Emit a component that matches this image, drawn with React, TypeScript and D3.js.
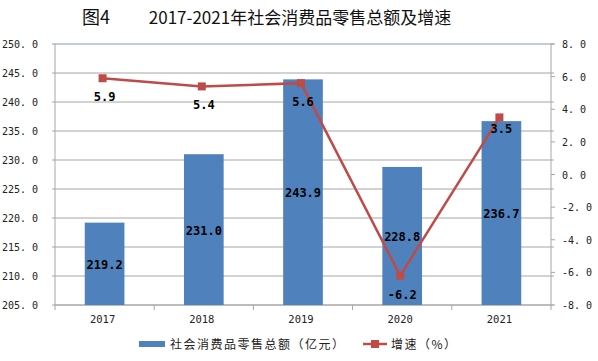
import React from 'react';
import * as d3 from 'd3';

const years = ['2017', '2018', '2019', '2020', '2021'];
const retailSales = [219.2, 231.0, 243.9, 228.8, 236.7];
const growthRate = [5.9, 5.4, 5.6, -6.2, 3.5];
const leftTicks = [205, 210, 215, 220, 225, 230, 235, 240, 245, 250];
const rightTicks = [-8, -6, -4, -2, 0, 2, 4, 6, 8];

const W = 598;
const H = 361;
const margin = { top: 44, right: 47, bottom: 56, left: 55 };
const BAR = '#4F81BD';
const LINE = '#BE4B48';
const GRID = '#A6A6A6';
const NUM_FONT = '"DejaVu Sans Mono", monospace';
const CJK_FONT = '"Noto Sans CJK SC", sans-serif';

const fmt = (v: number) => v.toFixed(1);
const fmtTick = (v: number) => v.toFixed(1).replace('.', '. ');

export default function App() {
  const x0 = margin.left;
  const x1 = W - margin.right;
  const y0 = H - margin.bottom;
  const y1 = margin.top;

  const x = d3.scaleBand<string>().domain(years).range([x0, x1]).paddingInner(0.6).paddingOuter(0.3);
  const yL = d3.scaleLinear().domain([205, 250]).range([y0, y1]);
  const yR = d3.scaleLinear().domain([-8, 8]).range([y0, y1]);
  const cx = (d: string) => (x(d) ?? 0) + x.bandwidth() / 2;

  const band = (x1 - x0) / years.length;
  const line = d3.line<number>()
    .x((_, i) => cx(years[i]) - 2)
    .y(d => yR(d));

  return (
    <svg width={W} height={H} style={{ position: 'absolute', left: 0, top: 0, background: '#fff' }}>
      {/* title */}
      <text x={82} y={24} fontFamily={CJK_FONT} fontSize={18} fill="#111">图4</text>
      <text x={300} y={24} textAnchor="middle" fontFamily={CJK_FONT} fontSize={17} fill="#111">
        2017-2021年社会消费品零售总额及增速
      </text>

      {/* gridlines */}
      {leftTicks.map(t => (
        <line key={'g' + t} x1={x0 - 3} x2={x1 + 3} y1={yL(t)} y2={yL(t)} stroke={t === 250 ? '#8496B0' : GRID} strokeWidth={1} />
      ))}

      {/* axes */}
      <line x1={x0} x2={x0} y1={y1} y2={y0} stroke={GRID} />
      <line x1={x1} x2={x1} y1={y1} y2={y0} stroke={GRID} />
      <line x1={x0} x2={x1} y1={y0} y2={y0} stroke={GRID} />
      {rightTicks.map(t => (
        <line key={'rt' + t} x1={x1} x2={x1 + 4} y1={yR(t)} y2={yR(t)} stroke={GRID} />
      ))}
      {d3.range(years.length + 1).map(i => (
        <line key={'xt' + i} x1={x0 + i * band} x2={x0 + i * band} y1={y0} y2={y0 + 5} stroke={GRID} />
      ))}

      {/* tick labels */}
      {leftTicks.map(t => (
        <text key={'l' + t} x={38} y={yL(t) + 4} textAnchor="end" fontFamily={NUM_FONT} fontSize={10} fill="#222">
          {fmtTick(t)}
        </text>
      ))}
      {rightTicks.map(t => (
        <text key={'r' + t} x={562} y={yR(t) + 4} textAnchor="start" fontFamily={NUM_FONT} fontSize={10} fill="#222">
          {fmtTick(t)}
        </text>
      ))}
      {years.map(yr => (
        <text key={'x' + yr} x={cx(yr) - 2} y={y0 + 18} textAnchor="middle" fontFamily={NUM_FONT} fontSize={10.5} fill="#222">
          {yr}
        </text>
      ))}

      {/* bars */}
      {retailSales.map((v, i) => (
        <rect key={'b' + i} x={x(years[i])} y={yL(v)} width={x.bandwidth()} height={y0 - yL(v)} fill={BAR} />
      ))}

      {/* line */}
      <path d={line(growthRate) ?? ''} fill="none" stroke={LINE} strokeWidth={2.5} />
      {growthRate.map((v, i) => (
        <rect key={'m' + i} x={cx(years[i]) - 2 - 4} y={yR(v) - 4} width={8} height={8} fill={LINE} />
      ))}

      {/* bar labels */}
      {retailSales.map((v, i) => (
        <text key={'bl' + i} x={cx(years[i])} y={(yL(v) + y0) / 2 + 5} textAnchor="middle" fontFamily={NUM_FONT} fontWeight="bold" fontSize={12} fill="#000">
          {fmt(v)}
        </text>
      ))}
      {/* line labels */}
      {growthRate.map((v, i) => (
        <text key={'ll' + i} x={cx(years[i])} y={yR(v) + (i === 4 ? 16 : 23)} textAnchor="middle" fontFamily={NUM_FONT} fontWeight="bold" fontSize={12} fill="#000">
          {fmt(v)}
        </text>
      ))}

      {/* legend */}
      <rect x={139} y={341} width={26} height={6} fill={BAR} />
      <text x={170} y={349} fontFamily={CJK_FONT} fontSize={12} letterSpacing={1.5} fill="#222">社会消费品零售总额（亿元）</text>
      <line x1={363} x2={387} y1={344} y2={344} stroke={LINE} strokeWidth={2.5} />
      <rect x={371} y={340} width={8} height={8} fill={LINE} />
      <text x={391} y={349} fontFamily={CJK_FONT} fontSize={12} letterSpacing={1.5} fill="#222">增速（%）</text>
    </svg>
  );
}
